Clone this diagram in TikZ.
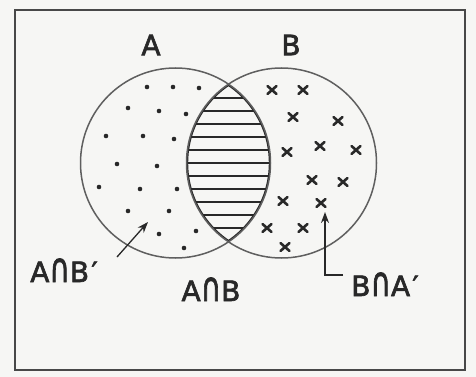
\documentclass[tikz,border=0pt]{standalone}
\usepackage{fontspec}
\setmainfont{DejaVu Sans}[FakeBold=2.2]
\usetikzlibrary{arrows.meta}
\definecolor{paper}{RGB}{246,246,244}
\definecolor{ink}{RGB}{40,40,40}
\definecolor{pencil}{RGB}{95,95,95}
\newcommand{\capcap}{\scalebox{1}[1.45]{∩}}
\begin{document}
\begin{tikzpicture}[x=1pt,y=-1pt,
  setcircle/.style={circle,draw=pencil,line width=1.5pt,minimum size=190pt,inner sep=0pt},
  lbl/.style={text=ink,font=\fontsize{28}{32}\selectfont\addfontfeature{LetterSpace=8},inner sep=0pt},
  hatchline/.style={draw=ink,line width=1.8pt},
  dotmark/.style={fill=ink},
  crossmark/.style={draw=ink,line width=2.6pt,line cap=round},
  pointer/.style={draw=ink,-{Stealth[length=11pt,width=8pt]}}]
\fill[paper] (0,0) rectangle (476,377);
\useasboundingbox (0,0) rectangle (476,377);
% frame
\draw[ink!85,line width=1.5pt] (15,10) rectangle (465,370);
% hatching in the lens
\begin{scope}
  \clip (175.5,163) circle (95);
  \clip (281.5,163) circle (95);
  \foreach \y in {98,111,...,232} \draw[hatchline] (180,\y) -- (275,\y);
  \draw[ink,line width=3.4pt] (175.5,163) circle (95);
  \draw[ink,line width=3.4pt] (281.5,163) circle (95);
\end{scope}
% circles
\node[setcircle] (cA) at (175.5,163) {};
\node[setcircle] (cB) at (281.5,163) {};
% dots in A only
\foreach \x/\y in {147/87,173/87,199/88,128/108,159/111,186/114,106/136,143/136,174/139,
  117/164,157/166,99/187,140/189,177/189,128/211,169/211,159/234,196/231,184/248}
  \fill[dotmark] (\x,\y) circle (2.3);
% crosses in B only
\foreach \x/\y in {272/90,303/90,293/117,338/121,287/152,320/146,356/150,312/180,343/182,
  283/201,321/203,267/228,303/228,285/247}
  \draw[crossmark] (\x-4.5,\y-4) -- (\x+4.5,\y+4) (\x-4.5,\y+4) -- (\x+4.5,\y-4);
% labels
\node[lbl] (labA) at (151,45) {A};
\node[lbl] (labB) at (291,45) {B};
\node[lbl,anchor=base] (labAnBp) at (64,282) {A\capcap B′};
\node[lbl,anchor=base] (labAnB) at (211,301) {A\capcap B};
\node[lbl,anchor=base] (labBnAp) at (385,296) {B\capcap A′};
% pointers
\coordinate (p1s) at (117,257);
\coordinate (p1e) at (148,222);
\draw[pointer,line width=1.3pt] (p1s) -- (p1e);
\coordinate (p2c) at (325,275);
\coordinate (p2s) at (343,275);
\coordinate (p2e) at (325,212);
\draw[pointer,line width=2.6pt] (p2s) -- (p2c) -- (p2e);
\end{tikzpicture}
\end{document}
